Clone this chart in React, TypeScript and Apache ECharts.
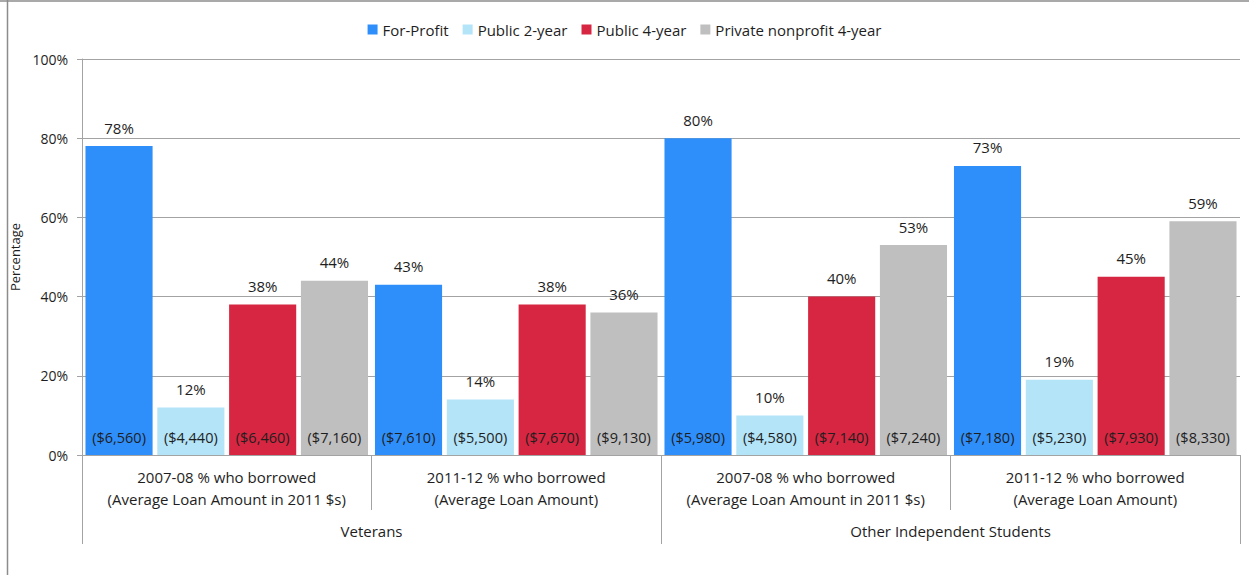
import React, { useEffect, useRef } from "react";
import * as echarts from "echarts";

// Sub-categories (first axis level) and the groups they belong to (second level)
const categories = [
  "2007-08 % who borrowed\n(Average Loan Amount in 2011 $s)",
  "2011-12 % who borrowed\n(Average Loan Amount)",
  "2007-08 % who borrowed\n(Average Loan Amount in 2011 $s)",
  "2011-12 % who borrowed\n(Average Loan Amount)",
];
const groups = ["Veterans", "Other Independent Students"];

const seriesNames = ["For-Profit", "Public 2-year", "Public 4-year", "Private nonprofit 4-year"];
const seriesColors = ["#2F8FFA", "#B4E4F8", "#D72641", "#BFBFBF"];

// Percentage who borrowed, per sector
const forProfitPct = [78, 43, 80, 73];
const public2Pct = [12, 14, 10, 19];
const public4Pct = [38, 38, 40, 45];
const privatePct = [44, 36, 53, 59];

// Average loan amounts, per sector
const forProfitLoan = [6560, 7610, 5980, 7180];
const public2Loan = [4440, 5500, 4580, 5230];
const public4Loan = [6460, 7670, 7140, 7930];
const privateLoan = [7160, 9130, 7240, 8330];

const yTicks = [0, 20, 40, 60, 80, 100];

const FONT = "'Open Sans', 'Noto Sans', sans-serif";
const TEXT = "#1e1e1e";
const GRID = "#a3a3a3";

export default function App() {
  const ref = useRef<HTMLDivElement>(null);

  useEffect(() => {
    if (!ref.current) return;
    const chart = echarts.init(ref.current, undefined, { renderer: "svg" });

    const pcts = [forProfitPct, public2Pct, public4Pct, privatePct];
    const loans = [forProfitLoan, public2Loan, public4Loan, privateLoan];
    const fmtMoney = (v: number) => "($" + v.toLocaleString("en-US") + ")";

    const barCommon = {
      type: "bar" as const,
      barGap: "7%",
      barCategoryGap: "2.4%",
    };

    const pctSeries = seriesNames.map((name, i) => ({
      ...barCommon,
      name,
      xAxisIndex: 0,
      data: pcts[i],
      itemStyle: { color: seriesColors[i] },
      label: {
        show: true,
        position: "top",
        distance: 11,
        formatter: (p: any) => p.value + "%",
        color: TEXT,
        fontFamily: FONT,
        fontSize: 15,
      },
    }));

    // Transparent twins on a hidden axis carry the loan-amount labels at the bar bottoms
    const loanSeries = seriesNames.map((name, i) => ({
      ...barCommon,
      name: name + " loan",
      xAxisIndex: 2,
      data: pcts[i],
      silent: true,
      itemStyle: { color: "rgba(0,0,0,0)" },
      label: {
        show: true,
        position: "insideBottom",
        distance: 10,
        formatter: (p: any) => fmtMoney(loans[i][p.dataIndex]),
        color: TEXT,
        fontFamily: FONT,
        fontSize: 14.5,
      },
    }));

    chart.setOption({
      animation: false,
      backgroundColor: "#ffffff",
      textStyle: { fontFamily: FONT, color: TEXT },
      legend: {
        data: seriesNames,
        top: 17,
        left: "center",
        itemWidth: 10,
        itemHeight: 10,
        itemGap: 14,
        icon: "rect",
        textStyle: { fontFamily: FONT, fontSize: 15, color: TEXT },
      },
      grid: { left: 82, right: 9, top: 59, bottom: 120, containLabel: false },
      xAxis: [
        {
          type: "category",
          data: categories,
          position: "bottom",
          axisLine: { show: true, lineStyle: { color: GRID } },
          axisTick: { show: true, interval: 0, length: 55, lineStyle: { color: GRID } },
          axisLabel: {
            interval: 0,
            margin: 11,
            lineHeight: 22,
            fontSize: 15,
            fontFamily: FONT,
            color: TEXT,
          },
        },
        {
          type: "category",
          data: groups,
          position: "bottom",
          axisLine: { show: false },
          axisTick: { show: true, interval: 0, length: 89, lineStyle: { color: GRID } },
          axisLabel: {
            interval: 0,
            margin: 68,
            fontSize: 15,
            fontFamily: FONT,
            color: TEXT,
          },
        },
        {
          type: "category",
          data: categories,
          show: false,
        },
      ],
      yAxis: {
        type: "value",
        min: yTicks[0],
        max: yTicks[yTicks.length - 1],
        interval: 20,
        name: "Percentage",
        nameLocation: "middle",
        nameRotate: 90,
        nameGap: 52,
        nameTextStyle: { fontFamily: FONT, fontSize: 13, color: TEXT },
        axisLine: { show: true, lineStyle: { color: GRID } },
        axisTick: { show: true, length: 5, lineStyle: { color: GRID } },
        axisLabel: {
          formatter: "{value}%",
          margin: 14,
          fontSize: 14,
          fontFamily: FONT,
          color: TEXT,
        },
        splitLine: { show: true, lineStyle: { color: GRID, width: 1 } },
      },
      graphic: [
        {
          type: "line",
          shape: { x1: 0, y1: 1, x2: 1249, y2: 1 },
          style: { stroke: "#8c8c8c", lineWidth: 1.5 },
        },
        {
          type: "line",
          shape: { x1: 7.5, y1: 0, x2: 7.5, y2: 575 },
          style: { stroke: "#8c8c8c", lineWidth: 1.5 },
        },
      ],
      series: [...pctSeries, ...loanSeries],
    });

    return () => chart.dispose();
  }, []);

  return (
    <div
      ref={ref}
      style={{ position: "fixed", left: 0, top: 0, width: 1249, height: 575 }}
    />
  );
}
